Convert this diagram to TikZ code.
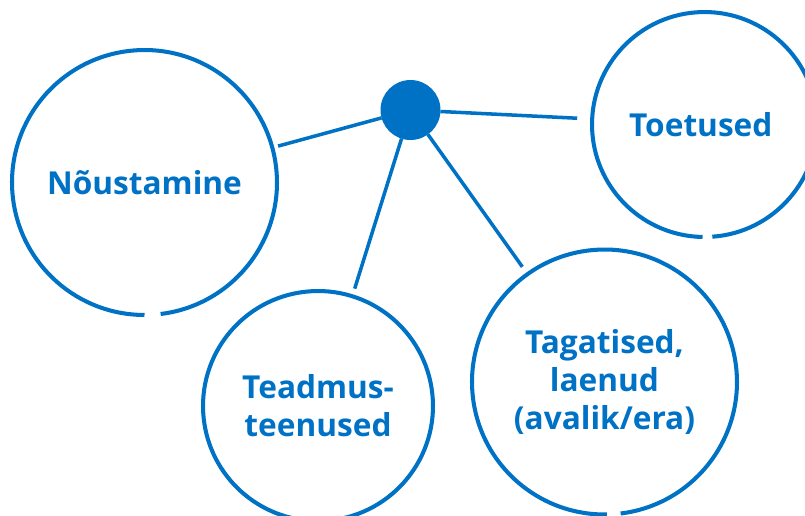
\documentclass[tikz,border=0pt]{standalone}
\usepackage{fontspec}
\setmainfont{Open Sans}
\usepackage{xcolor}
\definecolor{ringblue}{RGB}{0,114,198}

\tikzset{
  topic/.style={circle, draw=none, outer sep=0pt, align=center,
    text=ringblue, font=\bfseries\fontsize{18}{21.5}\selectfont},
  ring/.style={draw=ringblue, line width=2.3pt},
  spoke/.style={draw=ringblue, line width=2pt}
}

\begin{document}
\begin{tikzpicture}[x=0.02cm, y=-0.02cm]
        \useasboundingbox (0,0) rectangle (805,515);

        % Draw the hub
        \node[circle, fill=ringblue, minimum size=1.2cm, inner sep=0pt, outer sep=0pt] (hub) at (410.5,110) {};

        % Draw the topic circles
        \node[topic, minimum size=5.3cm] (nou) at (144.5,182.5) {Nõustamine};
        \node[topic, minimum size=4.5cm] (toe) at (704.5,124.5) {\hspace*{-0.15cm}Toetused};
        \node[topic, minimum size=4.6cm] (tea) at (318,406) {Teadmus-\\teenused};
        \node[topic, minimum size=5.3cm] (tag) at (604.5,382) {Tagatised,\\laenud\\(avalik/era)};

        % Draw the rings with a small gap at the bottom
        \draw[ring] (nou.-83) arc[start angle=-83, end angle=270, radius=2.65cm];
        \draw[ring] (toe.-86) arc[start angle=-86, end angle=269, radius=2.25cm];
        \draw[ring] (tea.-84) arc[start angle=-84, end angle=270, radius=2.3cm];
        \draw[ring] (tag.-83) arc[start angle=-83, end angle=271, radius=2.65cm];

        % Draw lines connecting the hub to the topics
        \draw[spoke, shorten >=0.12cm] (hub) -- (nou);
        \draw[spoke, shorten >=0.3cm] (hub) -- (toe);
        \draw[spoke, shorten >=0.16cm] (hub) -- (tea);
        \draw[spoke, shorten >=0.18cm] (hub) -- (tag);
    \end{tikzpicture}
\end{document}
